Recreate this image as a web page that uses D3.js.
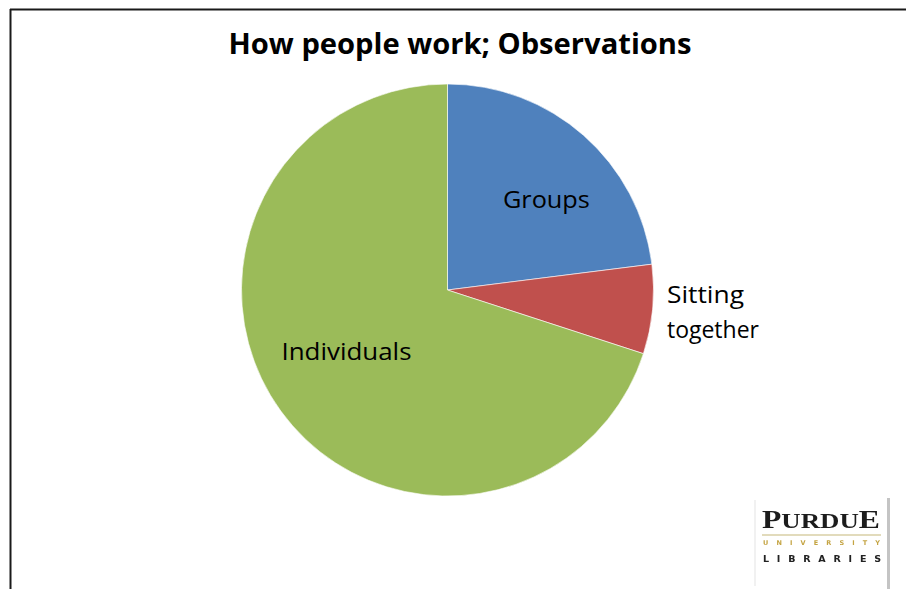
<!DOCTYPE html>
<html>
<head>
<meta charset="utf-8">
<script src="https://cdn.jsdelivr.net/npm/d3@7"></script>
<style>
  html, body { margin: 0; padding: 0; background: #fff; }
  svg { display: block; }
</style>
</head>
<body>
<svg id="chart" width="906" height="589"></svg>
<script>
// Share of observed work modes (percent)
const categories = ["Groups", "Sitting together", "Individuals"];
const values = [23, 7, 70];
const colors = ["#4F81BD", "#C0504D", "#9BBB59"];
const title = "How people work; Observations";

const svg = d3.select("#chart");
const W = 906, H = 589;

const defs = svg.append("defs");
defs.append("filter").attr("id", "soft")
  .append("feGaussianBlur").attr("stdDeviation", 0.45);

// Slide frame: top and left edges
svg.append("line").attr("x1", 10).attr("x2", W).attr("y1", 9.5).attr("y2", 9.5)
  .attr("stroke", "#1a1a1a").attr("stroke-width", 2);
svg.append("line").attr("x1", 10.5).attr("x2", 10.5).attr("y1", 9).attr("y2", H)
  .attr("stroke", "#1a1a1a").attr("stroke-width", 2);

// Title
svg.append("text")
  .attr("x", 460).attr("y", 54)
  .attr("text-anchor", "middle")
  .attr("font-family", "'Open Sans', 'Noto Sans', sans-serif")
  .attr("font-weight", 700)
  .attr("font-size", 28)
  .attr("textLength", 463)
  .attr("lengthAdjust", "spacingAndGlyphs")
  .attr("fill", "#000")
  .text(title);

// Pie
const cx = 447.5, cy = 290, r = 206;
const data = categories.map((c, i) => ({ name: c, value: values[i], color: colors[i] }));
const pie = d3.pie().sort(null).value(d => d.value);
const arc = d3.arc().innerRadius(0).outerRadius(r);
const arcs = pie(data);

const g = svg.append("g").attr("transform", `translate(${cx},${cy})`);
g.selectAll("path.slice")
  .data(arcs)
  .join("path")
  .attr("class", "slice")
  .attr("d", arc)
  .attr("fill", d => d.data.color)
  .attr("stroke", "#ffffff")
  .attr("stroke-width", 0.6);

// Slice labels: placed along each slice's mid-angle at a per-label radius
const labelFont = "'Open Sans', 'Noto Sans', sans-serif";
const labelSpec = {
  "Groups": { lines: ["Groups"], anchor: "middle", widths: [87], rad: 0.66, dx: 9, dy: 12 },
  "Sitting together": { lines: ["Sitting", "together"], anchor: "start", widths: [77, 92], rad: 1.07, dx: 0, dy: -16 },
  "Individuals": { lines: ["Individuals"], anchor: "middle", widths: [130], rad: 0.54, dx: -11, dy: -3 }
};

arcs.forEach(a => {
  const spec = labelSpec[a.data.name];
  const mid = (a.startAngle + a.endAngle) / 2;
  const x = cx + Math.sin(mid) * r * spec.rad + spec.dx;
  const y = cy - Math.cos(mid) * r * spec.rad + spec.dy;
  spec.lines.forEach((ln, i) => {
    svg.append("text")
      .attr("x", x)
      .attr("y", y + i * 35 + 8)
      .attr("text-anchor", spec.anchor)
      .attr("font-family", labelFont)
      .attr("font-size", 23)
      .attr("textLength", spec.widths[i])
      .attr("lengthAdjust", "spacingAndGlyphs")
      .attr("fill", "#000")
      .text(ln);
  });
});

// Library logo, bottom right
const logo = svg.append("g").attr("filter", "url(#soft)");

logo.append("line").attr("x1", 755).attr("x2", 755).attr("y1", 500).attr("y2", 586)
  .attr("stroke", "#ececec").attr("stroke-width", 1.5);
logo.append("line").attr("x1", 888.5).attr("x2", 888.5).attr("y1", 498).attr("y2", H)
  .attr("stroke", "#c4c4c4").attr("stroke-width", 3);

const pt = logo.append("text")
  .attr("x", 762).attr("y", 528)
  .attr("font-family", "'Liberation Serif', 'DejaVu Serif', serif")
  .attr("font-weight", 700)
  .attr("fill", "#1b1b1b")
  .attr("textLength", 118)
  .attr("lengthAdjust", "spacingAndGlyphs");
pt.append("tspan").attr("font-size", 26).text("P");
pt.append("tspan").attr("font-size", 22).text("URDU");
pt.append("tspan").attr("font-size", 26).text("E");

logo.append("line").attr("x1", 762).attr("x2", 881).attr("y1", 535).attr("y2", 535)
  .attr("stroke", "#d9cfa6").attr("stroke-width", 1.4);
logo.append("text")
  .attr("x", 763).attr("y", 545)
  .attr("font-family", "'DejaVu Sans', sans-serif")
  .attr("font-weight", 700)
  .attr("font-size", 6.5)
  .attr("fill", "#c4a443")
  .attr("textLength", 117)
  .attr("lengthAdjust", "spacing")
  .text("UNIVERSITY");
logo.append("text")
  .attr("x", 763).attr("y", 562)
  .attr("font-family", "'DejaVu Sans', sans-serif")
  .attr("font-weight", 700)
  .attr("font-size", 9.5)
  .attr("fill", "#222")
  .attr("textLength", 118)
  .attr("lengthAdjust", "spacing")
  .text("LIBRARIES");
</script>
</body>
</html>
